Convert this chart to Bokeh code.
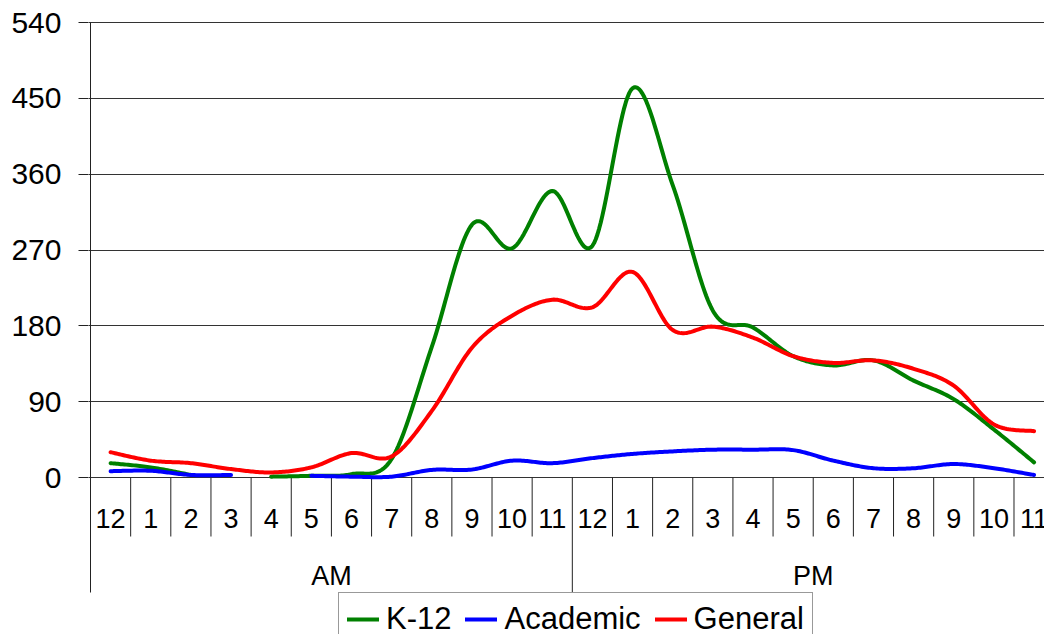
from bokeh.plotting import figure
from bokeh.models import Range1d, FixedTicker, Legend
from bokeh.core.properties import value
from bokeh.embed import file_html
from bokeh.resources import INLINE

# ---- data ----
hours = ["12", "1", "2", "3", "4", "5", "6", "7", "8", "9", "10", "11",
         "12", "1", "2", "3", "4", "5", "6", "7", "8", "9", "10", "11"]
periods = ["AM", "PM"]
y_ticks = [0, 90, 180, 270, 360, 450, 540]

k12 = [17, 12, 3, None, 1, 2, 4, 22, 155, 300, 272, 340,
       275, 462, 347, 198, 178, 144, 133, 139, 115, 93, 57, 18]
academic = [7.5, 8, 3, 3, None, 2, 1, 1, 9, 9.5, 20, 17,
            23, 28, 31, 33, 33, 32.5, 20, 11, 11, 16, 11, 3]
general = [30, 20, 17, 10, 6, 12, 29, 25, 79, 154, 192, 211,
           202, 244, 175, 179, 166, 144, 136, 139, 129, 109, 63, 55]

series = [("K-12", k12, "#008000"), ("Academic", academic, "#0000FF"), ("General", general, "#FF0000")]

# ---- layout constants ----
FONT = "Liberation Sans"
Y_PER_PX = 540 / 455.0
tick_bottom = -59 * Y_PER_PX
sep_bottom = -115 * Y_PER_PX
label_y = -41 * Y_PER_PX
group_y = -98 * Y_PER_PX


def smooth(ys, n=24):
    """Excel-like smoothed line (Bezier through points), NaN breaks for gaps."""
    pts = [(i + 0.5, v) for i, v in enumerate(ys)]
    runs, cur = [], []
    for x, v in pts:
        if v is None:
            if cur:
                runs.append(cur)
            cur = []
        else:
            cur.append((x, v))
    if cur:
        runs.append(cur)
    ox, oy = [], []
    for run in runs:
        if ox:
            ox.append(float("nan"))
            oy.append(float("nan"))
        m = len(run)
        if m == 1:
            ox.append(run[0][0]); oy.append(run[0][1])
            continue
        for i in range(m - 1):
            p0 = run[i - 1] if i > 0 else run[i]
            p1 = run[i]
            p2 = run[i + 1]
            p3 = run[i + 2] if i + 2 < m else run[i + 1]
            c1 = (p1[0] + (p2[0] - p0[0]) / 6.0, p1[1] + (p2[1] - p0[1]) / 6.0)
            c2 = (p2[0] - (p3[0] - p1[0]) / 6.0, p2[1] - (p3[1] - p1[1]) / 6.0)
            for k in range(n + 1):
                if i > 0 and k == 0:
                    continue
                t = k / n
                a = (1 - t) ** 3
                b = 3 * (1 - t) ** 2 * t
                c = 3 * (1 - t) * t ** 2
                d = t ** 3
                ox.append(a * p1[0] + b * c1[0] + c * c2[0] + d * p2[0])
                oy.append(a * p1[1] + b * c1[1] + c * c2[1] + d * p2[1])
    return ox, oy


p = figure(width=1044, height=634, output_backend="svg", toolbar_location=None,
           x_range=Range1d(-0.05, 23.76), y_range=Range1d(-157 * Y_PER_PX, 540 + 2 * Y_PER_PX),
           x_axis_location=None, min_border_left=88, min_border_right=0,
           min_border_top=20, min_border_bottom=0)
p.outline_line_color = None
p.background_fill_color = "white"
p.border_fill_color = "white"
p.xgrid.visible = False

ya = p.yaxis[0]
ya.ticker = FixedTicker(ticks=y_ticks)
ya.axis_line_color = None
ya.major_tick_out = 10
ya.major_tick_in = 0
ya.minor_tick_line_color = None
ya.major_tick_line_color = "#222222"
ya.major_label_standoff = 17
ya.major_label_text_font = FONT
ya.major_label_text_font_size = "30px"
ya.major_label_text_color = "black"

p.ygrid.ticker = FixedTicker(ticks=y_ticks)
p.ygrid.grid_line_color = "#333333"
p.ygrid.grid_line_width = 1

# vertical axis line (continues down through the category table)
p.segment(x0=[0], y0=[sep_bottom], x1=[0], y1=[max(y_ticks)], line_color="#222222", line_width=1)

# category table below the plot
n = len(hours)
inner = [i for i in range(1, n) if i != n // 2]
p.segment(x0=inner, y0=[0] * len(inner), x1=inner, y1=[tick_bottom] * len(inner),
          line_color="#222222", line_width=1)
p.segment(x0=[n // 2, n], y0=[0, 0], x1=[n // 2, n], y1=[sep_bottom, sep_bottom],
          line_color="#222222", line_width=1)
p.text(x=[i + 0.5 for i in range(n)], y=[label_y] * n, text=hours,
       text_font=value(FONT), text_font_size=value("27px"), text_color="black",
       text_align="center", text_baseline="middle")
p.text(x=[n / 4, 3 * n / 4], y=[group_y, group_y], text=periods,
       text_font=value(FONT), text_font_size=value("27px"), text_color="black",
       text_align="center", text_baseline="middle")

renderers = []
for name, ys, col in series:
    sx, sy = smooth(ys)
    r = p.line(sx, sy, line_color=col, line_width=4, line_join="round", line_cap="round")
    renderers.append((name, [r]))

legend = Legend(items=renderers, orientation="horizontal", location=(250, -12),
                label_text_font=FONT, label_text_font_size="31px", label_text_color="black",
                glyph_width=32, label_standoff=7, spacing=14, padding=8, margin=0,
                border_line_color="#333333", border_line_width=1,
                background_fill_color="white", background_fill_alpha=1.0)
p.add_layout(legend)

open("out.html", "w").write(file_html(p, INLINE))
